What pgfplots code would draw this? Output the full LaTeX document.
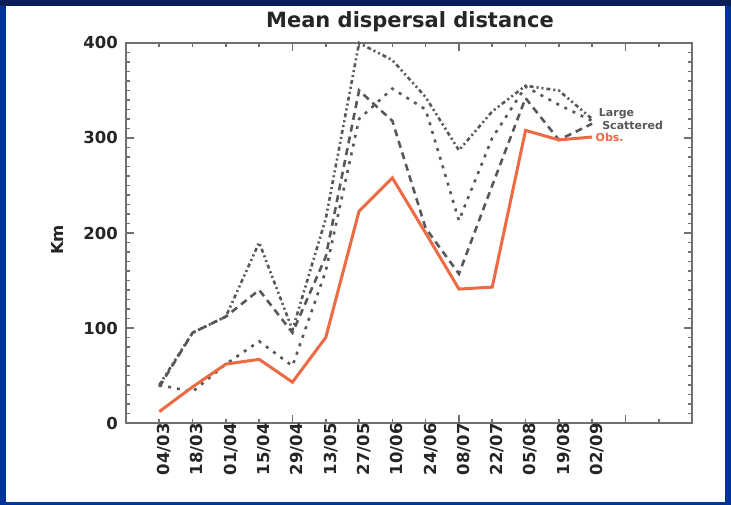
\documentclass[border=0pt]{standalone}
\usepackage{pgfplots}
\pgfplotsset{compat=1.18}
\usepackage{fontspec}
\setmainfont{DejaVu Sans}
\definecolor{navy}{RGB}{10,30,90}
\definecolor{bandblue}{RGB}{0,51,153}
\definecolor{axgray}{RGB}{112,112,112}
\definecolor{lgray}{RGB}{88,88,88}
\definecolor{coral}{RGB}{236,106,68}
\begin{document}
\begin{tikzpicture}[x=1pt,y=1pt]
\fill[bandblue] (0,0) rectangle (731,505);
\fill[navy] (0,499) rectangle (731,505);
\fill[white] (6,3) rectangle (725,499);
\begin{axis}[
  at={(126pt,82pt)}, anchor=south west,
  scale only axis, width=566pt, height=380pt,
  xmin=-1, xmax=16, ymin=0, ymax=400,
  axis line style={axgray, line width=2.2pt},
  tick style={axgray, line width=1.6pt},
  major tick length=8pt, minor tick length=4pt,
  ytick={0,100,200,300,400}, minor y tick num=9,
  xtick={-1,4,9,14}, xticklabels={},
  minor xtick={0,...,15},
  extra x ticks={0,1,2,3,4,5,6,7,8,9,10,11,12,13},
  extra x tick labels={04/03,18/03,01/04,15/04,29/04,13/05,27/05,10/06,24/06,08/07,22/07,05/08,19/08,02/09},
  extra x tick style={major tick length=4pt},
  /pgf/number format/assume math mode=true,
  ticklabel style={font=\fontsize{16.5}{17}\selectfont\bfseries, text=black!85},
  yticklabel style={inner sep=0pt, xshift=-8pt},
  xticklabel style={rotate=90, anchor=east, inner sep=0pt, yshift=-5pt},
  clip=false,
]
% Large (dash-dot-dot)
\addplot[lgray, line width=2.6pt, dash pattern=on 4pt off 3pt on 2pt off 3pt on 2pt off 3pt] coordinates {
(0,40) (1,95) (2,112) (3,190) (4,98) (5,215) (6,400) (7,382) (8,343) (9,287) (10,328) (11,355) (12,350) (13,320)};
% dotted sparse
\addplot[lgray, line width=2.6pt, dash pattern=on 3pt off 6pt] coordinates {
(0,40) (1,33) (2,62) (3,86) (4,60) (5,160) (6,320) (7,352) (8,330) (9,213) (10,300) (11,354) (12,335) (13,318)};
% dashed
\addplot[lgray, line width=2.6pt, dash pattern=on 7pt off 5pt] coordinates {
(0,38) (1,95) (2,112) (3,140) (4,95) (5,175) (6,350) (7,318) (8,205) (9,157) (10,250) (11,342) (12,298) (13,315)};
% observed (orange)
\addplot[coral, line width=3pt] coordinates {
(0,12) (1,38) (2,62) (3,67) (4,43) (5,90) (6,223) (7,258) (8,200) (9,141) (10,143) (11,308) (12,298) (13,301)};
\node[lgray, font=\fontsize{11}{11}\selectfont\bfseries, anchor=west] at (axis cs:13.1,326) {Large};
\node[lgray, font=\fontsize{11}{11}\selectfont\bfseries, anchor=west] at (axis cs:13.2,313) {Scattered};
\node[coral, font=\fontsize{11}{11}\selectfont\bfseries, anchor=west] at (axis cs:13.0,301) {Obs.};
\end{axis}
\node[font=\fontsize{21}{21}\selectfont\bfseries, text=black!85] at (410,483) {Mean dispersal distance};
\node[rotate=90, font=\fontsize{16.5}{17}\selectfont\bfseries, text=black!85] at (57,265) {Km};
\pgfresetboundingbox
\useasboundingbox (0,0) rectangle (731,505);
\end{tikzpicture}
\end{document}
